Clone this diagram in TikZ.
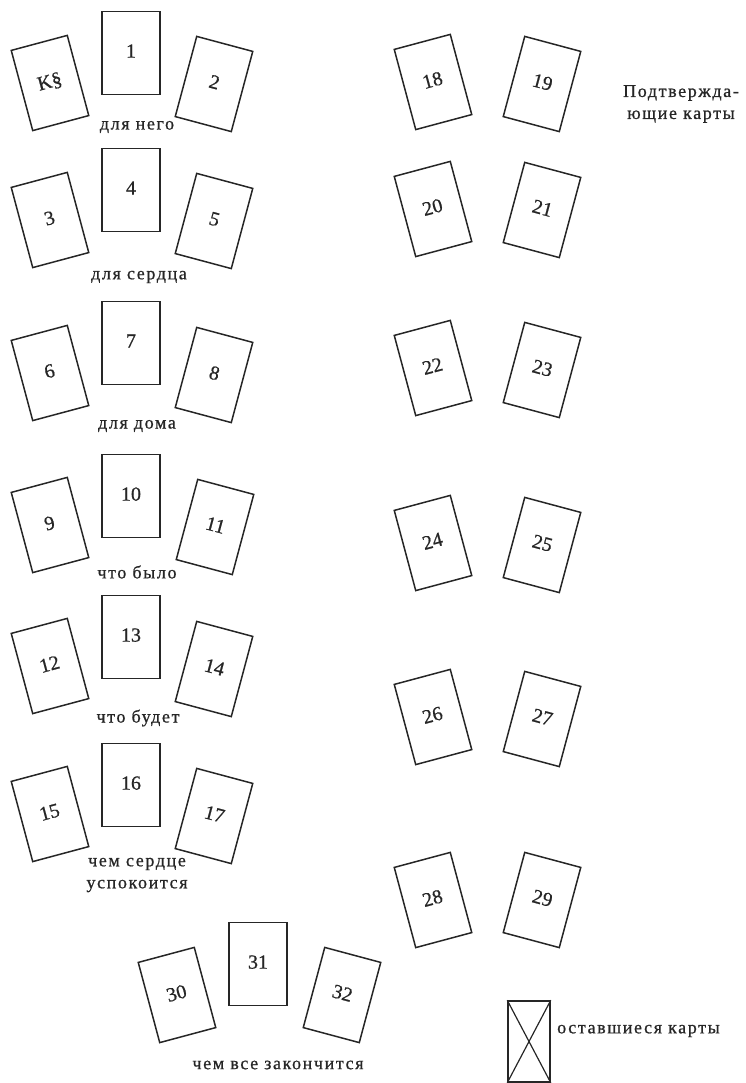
\documentclass[tikz,border=0pt]{standalone}
\usepackage{fontspec}
\setmainfont[FakeBold=0.8]{Liberation Serif}
\newfontfamily\lblfont[LetterSpace=9,FakeBold=0.8]{Liberation Serif}
\newcommand\cn[1]{\raisebox{4pt}{#1}}
\begin{document}
\begin{tikzpicture}[x=1pt,y=-1pt,
  card/.style={draw=black!85, line width=1.5pt, minimum width=58pt, minimum height=83pt,
    inner sep=0pt, font=\fontsize{20}{20}\selectfont, text=black!85},
  lcard/.style={card, rotate=15},
  rcard/.style={card, rotate=-15},
  lbl/.style={font=\lblfont\fontsize{18}{22}\selectfont, text=black!85, align=center, inner sep=0pt}]
\useasboundingbox (0,0) rectangle (745,1083);
% group 1
\node[card]  (c1) at (131,53) {\cn{1}};
\node[lcard] (cK) at (50,83) {\cn{K§}};
\node[rcard] (c2) at (214,84) {\cn{2}};
\node[lbl] (l1) at (137,127) {для него};
% group 2
\node[card]  (c4) at (131,190) {\cn{4}};
\node[lcard] (c3) at (50,220) {\cn{3}};
\node[rcard] (c5) at (214,221) {\cn{5}};
\node[lbl] (l2) at (139,277) {для сердца};
% group 3
\node[card]  (c7) at (131,343) {\cn{7}};
\node[lcard] (c6) at (50,373) {\cn{6}};
\node[rcard] (c8) at (214,375) {\cn{8}};
\node[lbl] (l3) at (137,426) {для дома};
% group 4
\node[card]  (c10) at (131,496) {\cn{10}};
\node[lcard] (c9)  at (50,525) {\cn{9}};
\node[rcard] (c11) at (215,527) {\cn{11}};
\node[lbl] (l4) at (137,572) {что было};
% group 5
\node[card]  (c13) at (131,637) {\cn{13}};
\node[lcard] (c12) at (50,666) {\cn{12}};
\node[rcard] (c14) at (214,669) {\cn{14}};
\node[lbl] (l5) at (138,718) {что будет};
% group 6
\node[card]  (c16) at (131,785) {\cn{16}};
\node[lcard] (c15) at (50,814) {\cn{15}};
\node[rcard] (c17) at (214,816) {\cn{17}};
\node[lbl] (l6) at (137,875) {чем сердце\\успокоится};
% right column
\node[lcard] (c18) at (433,82) {\cn{18}};
\node[rcard] (c19) at (542,84) {\cn{19}};
\node[lcard] (c20) at (433,209) {\cn{20}};
\node[rcard] (c21) at (542,210) {\cn{21}};
\node[lcard] (c22) at (433,368) {\cn{22}};
\node[rcard] (c23) at (542,370) {\cn{23}};
\node[lcard] (c24) at (433,543) {\cn{24}};
\node[rcard] (c25) at (542,545) {\cn{25}};
\node[lcard] (c26) at (433,717) {\cn{26}};
\node[rcard] (c27) at (542,719) {\cn{27}};
\node[lcard] (c28) at (433,900) {\cn{28}};
\node[rcard] (c29) at (542,900) {\cn{29}};
\node[lbl] (lc) at (681,104) {Подтвержда-\\ющие карты};
% bottom group
\node[card]  (c31) at (258,964) {\cn{31}};
\node[lcard] (c30) at (177,995) {\cn{30}};
\node[rcard] (c32) at (342,995) {\cn{32}};
\node[lbl] (l7) at (278,1065) {чем все закончится};
% legend
\node[draw=black!85, line width=1.5pt, minimum width=42pt, minimum height=81pt, inner sep=0pt] (rest) at (529,1041.5) {};
\draw[black!85, line width=1.2pt] (rest.north west) -- (rest.south east);
\draw[black!85, line width=1.2pt] (rest.north east) -- (rest.south west);
\node[lbl, anchor=west] (lr) at (557,1031) {оставшиеся карты};
\end{tikzpicture}
\end{document}
